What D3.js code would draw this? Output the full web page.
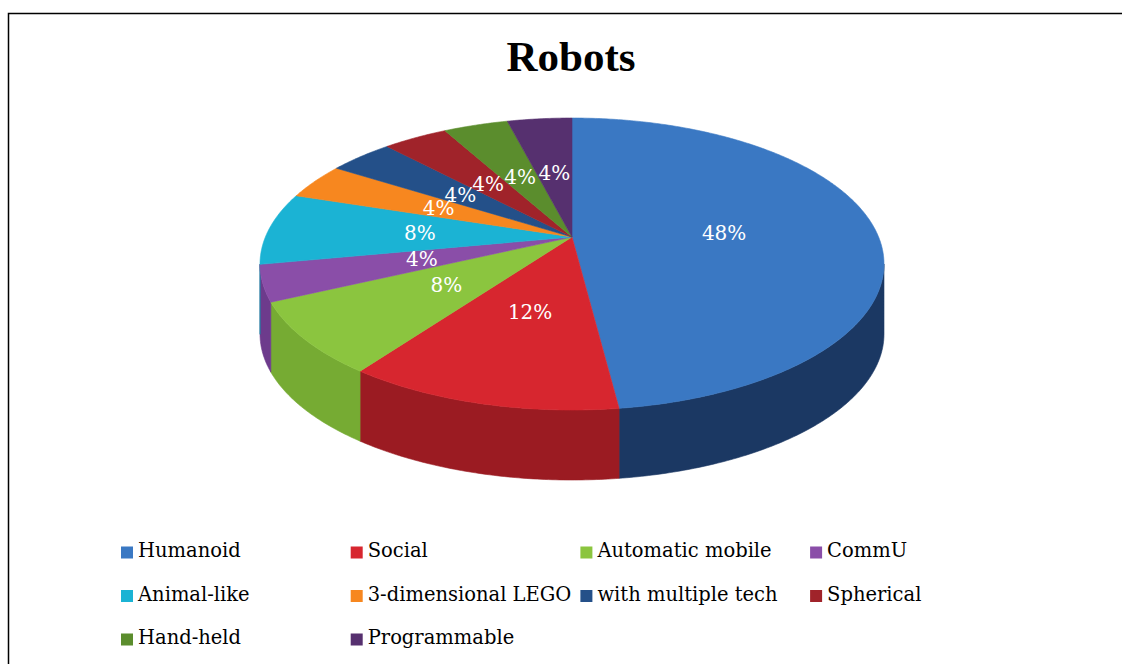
<!DOCTYPE html>
<html><head><meta charset="utf-8">
<script src="https://cdn.jsdelivr.net/npm/d3@7"></script>
<style>body{margin:0;background:#fff}</style>
</head><body>
<svg id="c" width="1122" height="664"></svg>
<script>
const title = "Robots";
const categories = ["Humanoid","Social","Automatic mobile","CommU","Animal-like","3-dimensional LEGO","with multiple tech","Spherical","Hand-held","Programmable"];
const values = [48,12,8,4,8,4,4,4,4,4];
const valueLabels = ["48%","12%","8%","4%","8%","4%","4%","4%","4%","4%"];
const topColors = ["#3a78c3","#d7262f","#8bc53f","#8a4ea8","#1bb3d4","#f7871f","#245089","#a0232a","#5b8d2d","#56306f"];
const sideColors = ["#1b3863","#9b1b22","#76ab33","#6d3b8c","#138fa9","#c96a14","#1a3b66","#7a1a20","#456b22","#412454"];

const svg = d3.select("#c");
// frame
svg.append("path").attr("d","M8.5,700V13.5H1140").attr("fill","none").attr("stroke","#000").attr("stroke-width",1.5);

svg.append("text").attr("x",571).attr("y",71).attr("text-anchor","middle")
  .attr("font-family","Liberation Serif").attr("font-weight","bold").attr("font-size",43)
  .text(title);

// perspective projection of a circle
const cx = 572, cy = 237, A = 306.6, B = 141, k = 0.185, depth = 70;
function proj(a, r, dy) {
  const u = r*Math.sin(a), v = r*Math.cos(a), w = 1 + k*v;
  return [cx + A*u/w, cy - B*v/w + (dy||0)];
}
function arcPts(a0, a1, dy) {
  const n = Math.max(2, Math.ceil((a1-a0)/0.01));
  return d3.range(n+1).map(i => proj(a0 + (a1-a0)*i/n, 1, dy));
}

const pie = d3.pie().sort(null).value(d => d)(values);
const line = d3.line();
const aL = Math.acos(-k), aR = 2*Math.PI - aL;

// walls
const gW = svg.append("g");
pie.forEach((s, i) => {
  const lo = Math.max(s.startAngle, aL), hi = Math.min(s.endAngle, aR);
  if (lo < hi) {
    const pts = arcPts(lo, hi, 0).concat(arcPts(lo, hi, depth).reverse());
    gW.append("path").attr("d", line(pts) + "Z").attr("fill", sideColors[i])
      .attr("stroke", sideColors[i]).attr("stroke-width", 0.6);
  }
});
// tops
const gT = svg.append("g");
pie.forEach((s, i) => {
  const pts = [[cx, cy]].concat(arcPts(s.startAngle, s.endAngle, 0));
  gT.append("path").attr("d", line(pts) + "Z").attr("fill", topColors[i])
    .attr("stroke", topColors[i]).attr("stroke-width", 0.6);
});
// labels
pie.forEach((s, i) => {
  const p = proj((s.startAngle + s.endAngle)/2, 0.5, 0);
  svg.append("text").attr("x", p[0]).attr("y", p[1]).attr("text-anchor","middle")
    .attr("dominant-baseline","central").attr("fill","#fff")
    .attr("font-family","DejaVu Serif").attr("font-size",20).text(valueLabels[i]);
});

// legend
const colX = d3.scaleLinear().domain([0,1]).range([121, 350.7]);
const rowY = d3.scaleLinear().domain([0,1]).range([557, 600.5]);
const gL = svg.append("g");
categories.forEach((c, i) => {
  const col = i % 4, row = Math.floor(i/4);
  const x = colX(col), y = rowY(row);
  gL.append("rect").attr("x", x).attr("y", y-10.5).attr("width", 12).attr("height", 12).attr("fill", topColors[i]);
  gL.append("text").attr("x", x+17).attr("y", y).attr("font-family","DejaVu Serif")
    .attr("font-size", 19.5).attr("fill","#000").text(c);
});
</script>
</body></html>
